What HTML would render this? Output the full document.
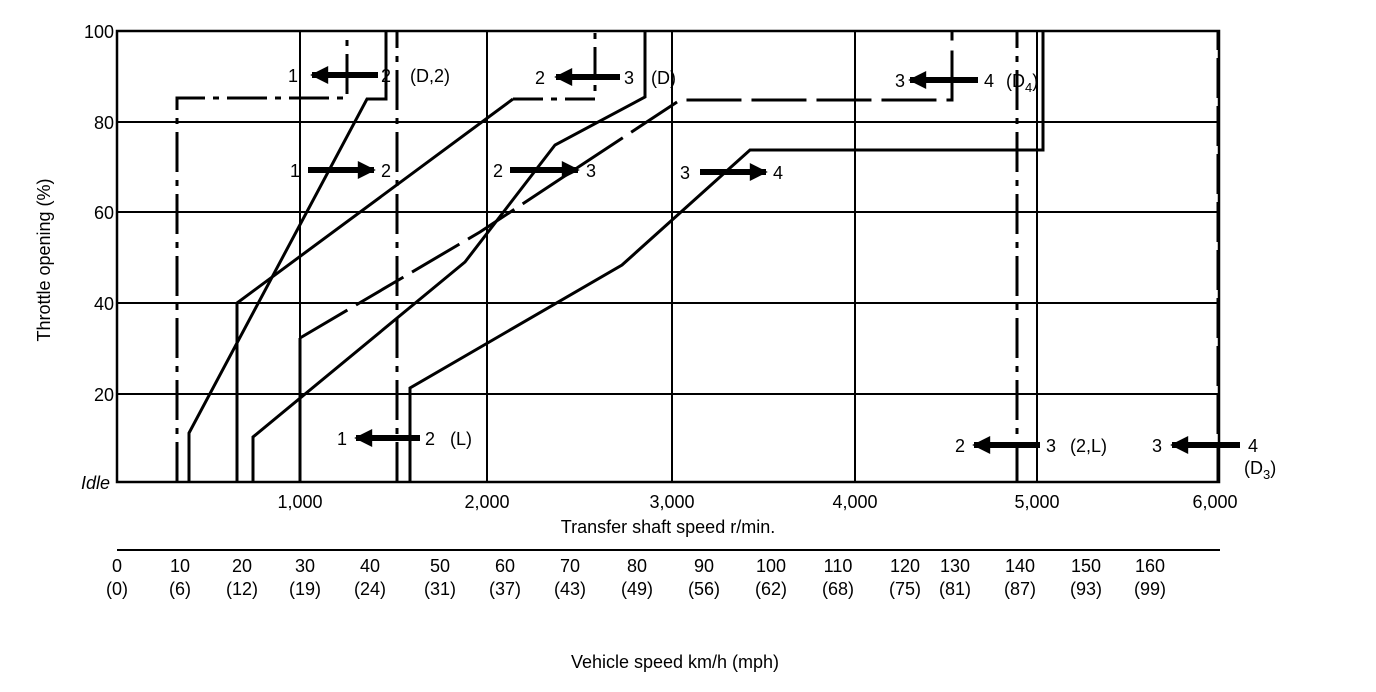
<!DOCTYPE html>
<html><head><meta charset="utf-8"><style>
html,body{margin:0;padding:0;background:#fff;}
svg{display:block;font-family:"Liberation Sans",sans-serif;}
text{fill:#000;font-size:18px;}
</style></head><body>
<svg width="1376" height="692" viewBox="0 0 1376 692" xmlns="http://www.w3.org/2000/svg">
<defs>
<marker id="al" viewBox="0 0 10 10" refX="9" refY="5" markerWidth="4" markerHeight="3" orient="auto" markerUnits="strokeWidth"><path d="M10,5 L0,0 L0,10 Z" fill="#000"/></marker>
</defs>
<g stroke="#000" fill="none">
<rect x="117" y="31" width="1102" height="451" stroke-width="2.5"/>
<g stroke-width="2">
<line x1="300" y1="31" x2="300" y2="482"/>
<line x1="487" y1="31" x2="487" y2="482"/>
<line x1="672" y1="31" x2="672" y2="482"/>
<line x1="855" y1="31" x2="855" y2="482"/>
<line x1="1037" y1="31" x2="1037" y2="482"/>
<line x1="117" y1="122" x2="1219" y2="122"/>
<line x1="117" y1="212" x2="1219" y2="212"/>
<line x1="117" y1="303" x2="1219" y2="303"/>
<line x1="117" y1="394" x2="1219" y2="394"/>
</g>
<g stroke-width="3">
<polyline points="177,482 177,98 347,98 347,31" stroke-dasharray="40,8,6,8"/>
<polyline points="189,482 189,433 367,99 386,99 386,31"/>
<line x1="397" y1="482" x2="397" y2="31" stroke-dasharray="40,8,6,8"/>
<polyline points="410,482 410,388 622,265 750,150 1043,150 1043,31"/>
<polyline points="253,482 253,437 465,262 555,145 645,97 645,31"/>
<polyline points="237,482 237,303 513,99"/>
<polyline points="513,99 595,99 595,31" stroke-dasharray="30,8,6,8"/>
<polyline points="300,482 300,338"/>
<polyline points="300,338 480,232 680,100 952,100 952,31" stroke-dasharray="55,10"/>
<line x1="1017" y1="482" x2="1017" y2="31" stroke-dasharray="40,8,6,8"/>
<line x1="1218" y1="482" x2="1218" y2="31" stroke-dasharray="40,8"/>
</g>
<g stroke-width="6">
<line x1="378" y1="75" x2="312" y2="75" marker-end="url(#al)"/>
<line x1="308" y1="170" x2="374" y2="170" marker-end="url(#al)"/>
<line x1="620" y1="77" x2="556" y2="77" marker-end="url(#al)"/>
<line x1="510" y1="170" x2="578" y2="170" marker-end="url(#al)"/>
<line x1="700" y1="172" x2="766" y2="172" marker-end="url(#al)"/>
<line x1="978" y1="80" x2="910" y2="80" marker-end="url(#al)"/>
<line x1="420" y1="438" x2="356" y2="438" marker-end="url(#al)"/>
<line x1="1040" y1="445" x2="974" y2="445" marker-end="url(#al)"/>
<line x1="1240" y1="445" x2="1172" y2="445" marker-end="url(#al)"/>
</g>
<line x1="117" y1="550" x2="1220" y2="550" stroke-width="2"/>
</g>
<text x="288" y="82">1</text><text x="381" y="82">2</text><text x="410" y="82">(D,2)</text>
<text x="290" y="177">1</text><text x="381" y="177">2</text>
<text x="535" y="84">2</text><text x="624" y="84">3</text><text x="651" y="84">(D)</text>
<text x="493" y="177">2</text><text x="586" y="177">3</text>
<text x="680" y="179">3</text><text x="773" y="179">4</text>
<text x="895" y="87">3</text><text x="984" y="87">4</text><text x="1006" y="87">(D<tspan dy="5" style="font-size:13px">4</tspan><tspan dy="-5">)</tspan></text>
<text x="337" y="445">1</text><text x="425" y="445">2</text><text x="450" y="445">(L)</text>
<text x="955" y="452">2</text><text x="1046" y="452">3</text><text x="1070" y="452">(2,L)</text>
<text x="1152" y="452">3</text><text x="1248" y="452">4</text><text x="1244" y="474">(D<tspan dy="5" style="font-size:13px">3</tspan><tspan dy="-5">)</tspan></text>
<g text-anchor="end">
<text x="114" y="38">100</text><text x="114" y="129">80</text><text x="114" y="219">60</text>
<text x="114" y="310">40</text><text x="114" y="401">20</text><text x="110" y="489" font-style="italic">Idle</text>
</g>
<text transform="translate(50,260) rotate(-90)" text-anchor="middle">Throttle opening (%)</text>
<g text-anchor="middle">
<text x="300" y="508">1,000</text><text x="487" y="508">2,000</text><text x="672" y="508">3,000</text>
<text x="855" y="508">4,000</text><text x="1037" y="508">5,000</text><text x="1215" y="508">6,000</text>
<text x="668" y="533">Transfer shaft speed r/min.</text>
<text x="117" y="572">0</text><text x="117" y="595">(0)</text>
<text x="180" y="572">10</text><text x="180" y="595">(6)</text>
<text x="242" y="572">20</text><text x="242" y="595">(12)</text>
<text x="305" y="572">30</text><text x="305" y="595">(19)</text>
<text x="370" y="572">40</text><text x="370" y="595">(24)</text>
<text x="440" y="572">50</text><text x="440" y="595">(31)</text>
<text x="505" y="572">60</text><text x="505" y="595">(37)</text>
<text x="570" y="572">70</text><text x="570" y="595">(43)</text>
<text x="637" y="572">80</text><text x="637" y="595">(49)</text>
<text x="704" y="572">90</text><text x="704" y="595">(56)</text>
<text x="771" y="572">100</text><text x="771" y="595">(62)</text>
<text x="838" y="572">110</text><text x="838" y="595">(68)</text>
<text x="905" y="572">120</text><text x="905" y="595">(75)</text>
<text x="955" y="572">130</text><text x="955" y="595">(81)</text>
<text x="1020" y="572">140</text><text x="1020" y="595">(87)</text>
<text x="1086" y="572">150</text><text x="1086" y="595">(93)</text>
<text x="1150" y="572">160</text><text x="1150" y="595">(99)</text>
<text x="675" y="668">Vehicle speed  km/h (mph)</text>
</g>
</svg>
</body></html>
